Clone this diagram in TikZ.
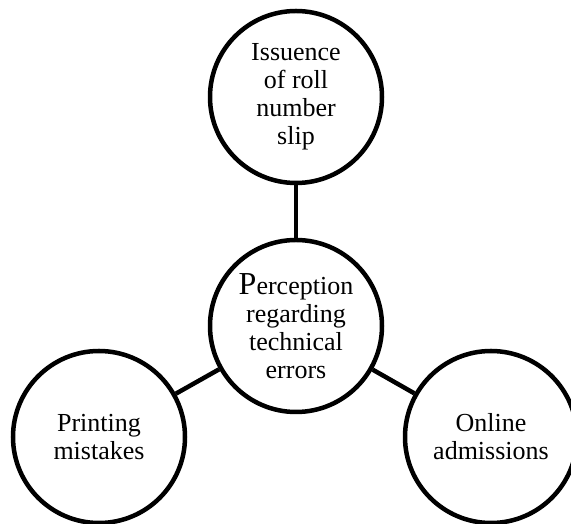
\documentclass[tikz,border=0pt]{standalone}
\usepackage{fontspec}
\setmainfont{Liberation Serif}
\begin{document}
\begin{tikzpicture}[x=1pt,y=1pt,
  bubble/.style={circle,draw=black,line width=4.5pt,minimum size=172pt,inner sep=0pt,
    align=center,font=\fontsize{26}{28}\selectfont},
  link/.style={draw=black,line width=4.5pt}]
\useasboundingbox (0,0) rectangle (571,524);
\clip (0,0) rectangle (571,524);
\node[bubble] (t) at (296,427) {Issuence\\of roll\\number\\slip};
\node[bubble] (c) at (296,198) {{\fontsize{32}{28}\selectfont P}erception\\regarding\\technical\\errors};
\node[bubble] (l) at (99,87) {Printing\\mistakes};
\node[bubble] (r) at (491,87) {Online\\admissions};
\draw[link] (t) -- (c);
\draw[link] (c) -- (l);
\draw[link] (c) -- (r);
\end{tikzpicture}
\end{document}
